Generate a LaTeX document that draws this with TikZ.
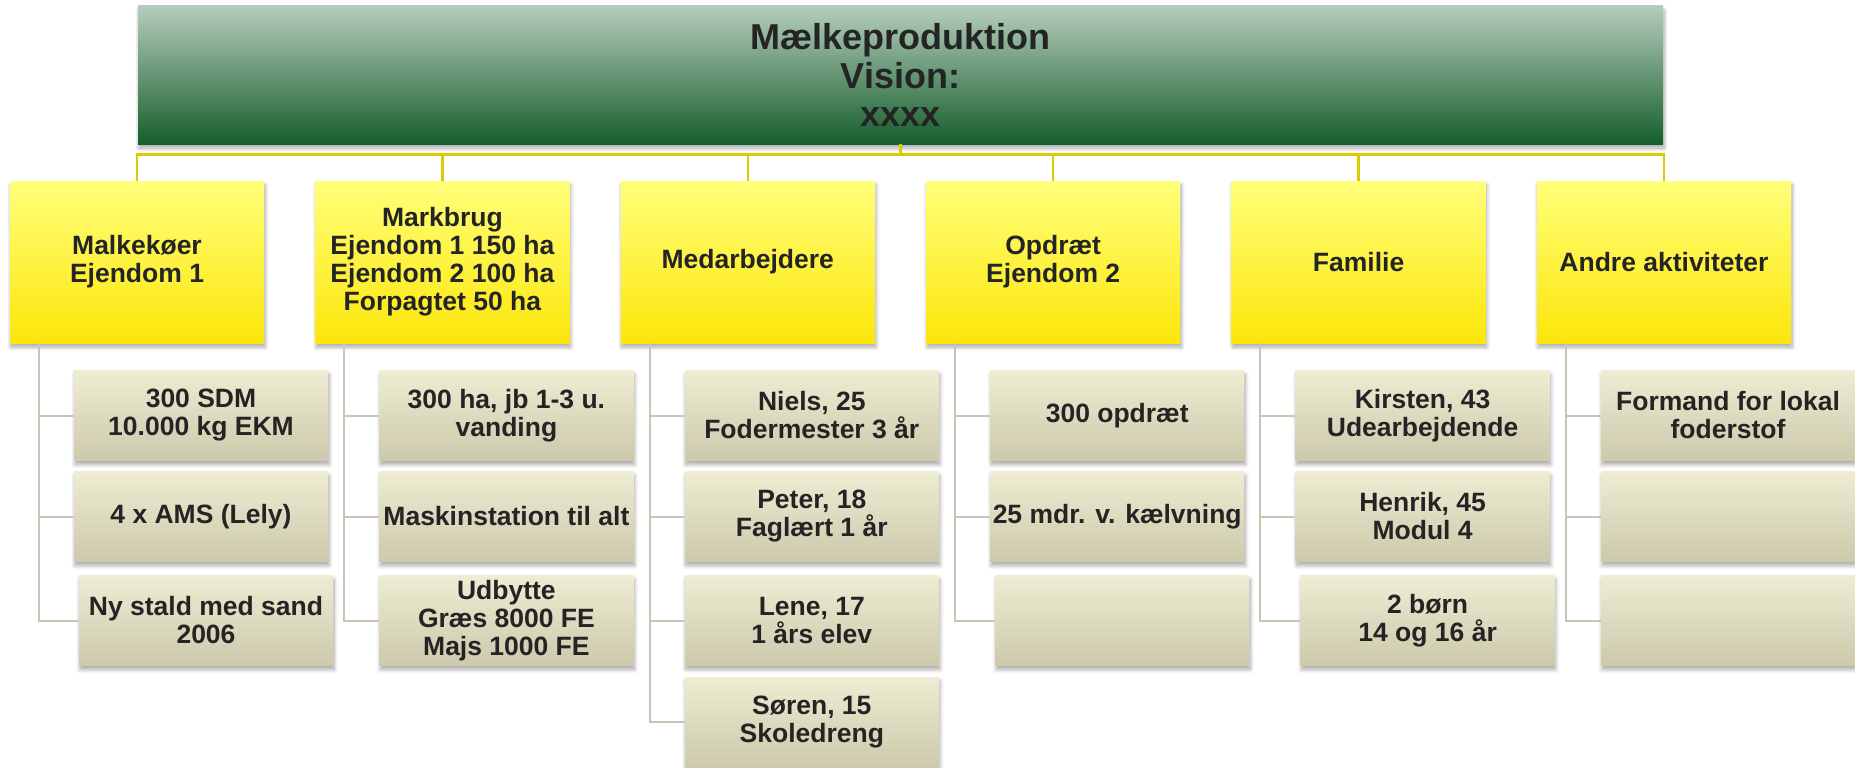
\documentclass[tikz,border=0pt]{standalone}
\usepackage{fontspec}
\setmainfont{Liberation Sans}
\usetikzlibrary{shadows.blur}
\definecolor{topA}{RGB}{180,205,188}
\definecolor{topM}{RGB}{140,172,148}
\definecolor{topB}{RGB}{22,94,44}
\definecolor{ylA}{RGB}{255,255,122}
\definecolor{ylB}{RGB}{252,230,10}
\definecolor{chA}{RGB}{238,236,210}
\definecolor{chB}{RGB}{204,201,172}
\definecolor{busc}{RGB}{222,202,0}
\definecolor{trunkc}{RGB}{200,198,180}
\definecolor{txt}{RGB}{36,36,36}
\tikzset{
  shd/.style={blur shadow={shadow xshift=1pt, shadow yshift=-4pt, shadow blur radius=4pt, shadow blur steps=8, shadow opacity=35}},
  topbox/.style={shd, rectangle, inner sep=0pt, minimum width=1525pt, minimum height=138pt,
     top color=topA, middle color=topM, bottom color=topB, align=center, text=txt,
     font=\fontsize{36}{38.5}\selectfont\bfseries},
  lvlbox/.style={shd, rectangle, inner sep=0pt, minimum width=254pt, minimum height=162pt,
     top color=ylA, bottom color=ylB, align=center, text=txt,
     font=\fontsize{26.5}{28}\selectfont\bfseries},
  chbox/.style={shd, rectangle, inner sep=0pt, minimum width=254pt, minimum height=90pt,
     top color=chA, bottom color=chB, align=center, text=txt,
     font=\fontsize{26.5}{28}\selectfont\bfseries},
  bus/.style={draw=busc, line width=2.5pt},
  trunk/.style={draw=trunkc, line width=2pt},
}
\begin{document}
\begin{tikzpicture}[x=1pt,y=-1pt]
\useasboundingbox (0,0) rectangle (1855,768);
% top
\node[topbox] (top) at (900.5,75) {Mælkeproduktion\\Vision:\\xxxx};
% level 1
\node[lvlbox] (lA) at (137,262) {Malkekøer\\Ejendom 1};
\node[lvlbox] (lB) at (442.4,262) {Markbrug\\Ejendom 1 150 ha\\Ejendom 2 100 ha\\Forpagtet 50 ha};
\node[lvlbox] (lC) at (747.8,262) {Medarbejdere};
\node[lvlbox] (lD) at (1053.2,262) {Opdræt\\Ejendom 2};
\node[lvlbox] (lE) at (1358.6,262) {Familie};
\node[lvlbox] (lF) at (1664,262) {Andre aktiviteter};
% bus
\foreach \n in {lA,lB,lC,lD,lE,lF}{
  \draw[bus] (top.south) -- ++(0,10.5) -| (\n.north);
}
% children
\node[chbox] (a1) at (201,415.5) {300 SDM\\10.000 kg EKM};
\node[chbox] (a2) at (201,516.5) {4 x AMS (Lely)};
\node[chbox] (a3) at (206,620.5) {Ny stald med sand\\2006};
\node[chbox] (b1) at (506.4,415.5) {300 ha, jb 1-3 u.\\vanding};
\node[chbox] (b2) at (506.4,516.5) {Maskinstation til alt};
\node[chbox] (b3) at (506.4,620.5) {Udbytte\\Græs 8000 FE\\Majs 1000 FE};
\node[chbox] (c1) at (811.8,415.5) {Niels, 25\\Fodermester 3 år};
\node[chbox] (c2) at (811.8,516.5) {Peter, 18\\Faglært 1 år};
\node[chbox] (c3) at (811.8,620.5) {Lene, 17\\1 års elev};
\node[chbox] (c4) at (811.8,722) {Søren, 15\\Skoledreng};
\node[chbox] (d1) at (1117.2,415.5) {300 opdræt};
\node[chbox] (d2) at (1117.2,516.5) {25 mdr. v. kælvning};
\node[chbox] (d3) at (1122.2,620.5) {};
\node[chbox] (e1) at (1422.6,415.5) {Kirsten, 43\\Udearbejdende};
\node[chbox] (e2) at (1422.6,516.5) {Henrik, 45\\Modul 4};
\node[chbox] (e3) at (1427.6,620.5) {2 børn\\14 og 16 år};
\node[chbox] (f1) at (1728,415.5) {Formand for lokal\\foderstof};
\node[chbox] (f2) at (1728,516.5) {};
\node[chbox] (f3) at (1728,620.5) {};
% trunks
\foreach \p/\cs in {lA/{a1,a2,a3}, lB/{b1,b2,b3}, lC/{c1,c2,c3,c4}, lD/{d1,d2,d3}, lE/{e1,e2,e3}, lF/{f1,f2,f3}}{
  \foreach \c in \cs {
    \draw[trunk] ([xshift=29pt]\p.south west) |- (\c.west);
  }
}
\end{tikzpicture}
\end{document}
